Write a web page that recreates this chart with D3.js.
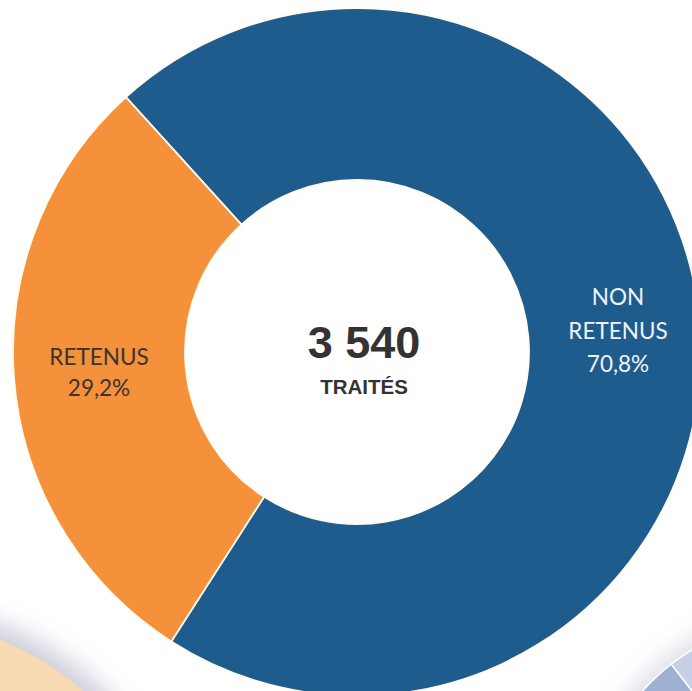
<!DOCTYPE html>
<html><head><meta charset="utf-8">
<script src="https://cdn.jsdelivr.net/npm/d3@7/dist/d3.min.js"></script>
<style>html,body{margin:0;padding:0;background:#fff;overflow:hidden}</style>
</head><body>
<script>
const categories = ["NON RETENUS", "RETENUS"];
const labelLines = [["NON", "RETENUS"], ["RETENUS"]];
const values = [70.8, 29.2];
const pctLabels = ["70,8%", "29,2%"];
const totalLabel = "3 540";
const totalSub = "TRAITÉS";
const colors = ["#1e5c8d", "#f4913a"];

const W = 692, H = 691;
const cx = 357, cy = 352, rOuter = 344, rInner = 172;

const svg = d3.select("body").append("svg").attr("width", W).attr("height", H);
const defs = svg.append("defs");
const f = defs.append("filter").attr("id", "sh").attr("x", "-50%").attr("y", "-50%").attr("width", "200%").attr("height", "200%");
f.append("feGaussianBlur").attr("stdDeviation", 12);

// decorative neighbour circles (cropped in reference)
svg.append("circle").attr("cx", -105).attr("cy", 905).attr("r", 300)
  .attr("fill", "#b9bccd").attr("opacity", 0.7).attr("filter", "url(#sh)");
svg.append("circle").attr("cx", -110).attr("cy", 910).attr("r", 292).attr("fill", "#f8dab2");

svg.append("circle").attr("cx", 800).attr("cy", 830).attr("r", 218)
  .attr("fill", "#c4c6d4").attr("opacity", 0.6).attr("filter", "url(#sh)");
const decoArc = d3.arc().innerRadius(0).outerRadius(210);
const decoG = svg.append("g").attr("transform", "translate(800,830)");
decoG.append("path").attr("d", decoArc({startAngle: -Math.PI, endAngle: -0.66})).attr("fill", "#9fb0d4").attr("stroke", "#fff").attr("stroke-width", 1.5);
decoG.append("path").attr("d", decoArc({startAngle: -0.66, endAngle: 0.5})).attr("fill", "#c7cfe6").attr("stroke", "#fff").attr("stroke-width", 1.5);

const startA = -42.2 * Math.PI / 180;
const pie = d3.pie().sort(null).value(d => d).startAngle(startA).endAngle(startA + 2 * Math.PI);
const arcs = pie(values);
const arc = d3.arc().innerRadius(rInner).outerRadius(rOuter);

const g = svg.append("g").attr("transform", `translate(${cx},${cy})`);
g.selectAll("path.slice").data(arcs).join("path")
  .attr("class", "slice")
  .attr("d", arc)
  .attr("fill", (d, i) => colors[i])
  .attr("stroke", "#fffbee").attr("stroke-width", 1.8);

// slice labels, centred horizontally in the ring
const mid = (rInner + rOuter) / 2;
arcs.forEach((d, i) => {
  const side = i === 0 ? 1 : -1;
  const lx = side * mid + (i === 0 ? 3 : 0);
  const lines = labelLines[i].concat([pctLabels[i]]);
  const baseY = i === 0 ? -47 : 13;
  const step = i === 0 ? 33.5 : 31;
  const t = g.append("text")
    .attr("text-anchor", "middle")
    .attr("font-family", "Lato, 'Open Sans', sans-serif")
    .attr("font-size", 22.5)
    .attr("fill", i === 0 ? "#eef3f8" : "#3b3430");
  lines.forEach((s, k) => {
    t.append("tspan").attr("x", lx).attr("y", baseY + k * step).text(s);
  });
});

// centre text
g.append("text").attr("x", 7).attr("y", 6).attr("text-anchor", "middle")
  .attr("font-family", "'Liberation Sans', Arial, sans-serif").attr("font-weight", "bold")
  .attr("font-size", 45).attr("fill", "#333").text(totalLabel);
g.append("text").attr("x", 7).attr("y", 42).attr("text-anchor", "middle")
  .attr("font-family", "'Liberation Sans', Arial, sans-serif").attr("font-weight", "bold")
  .attr("font-size", 20.5).attr("fill", "#333").text(totalSub);
</script>
</body></html>
